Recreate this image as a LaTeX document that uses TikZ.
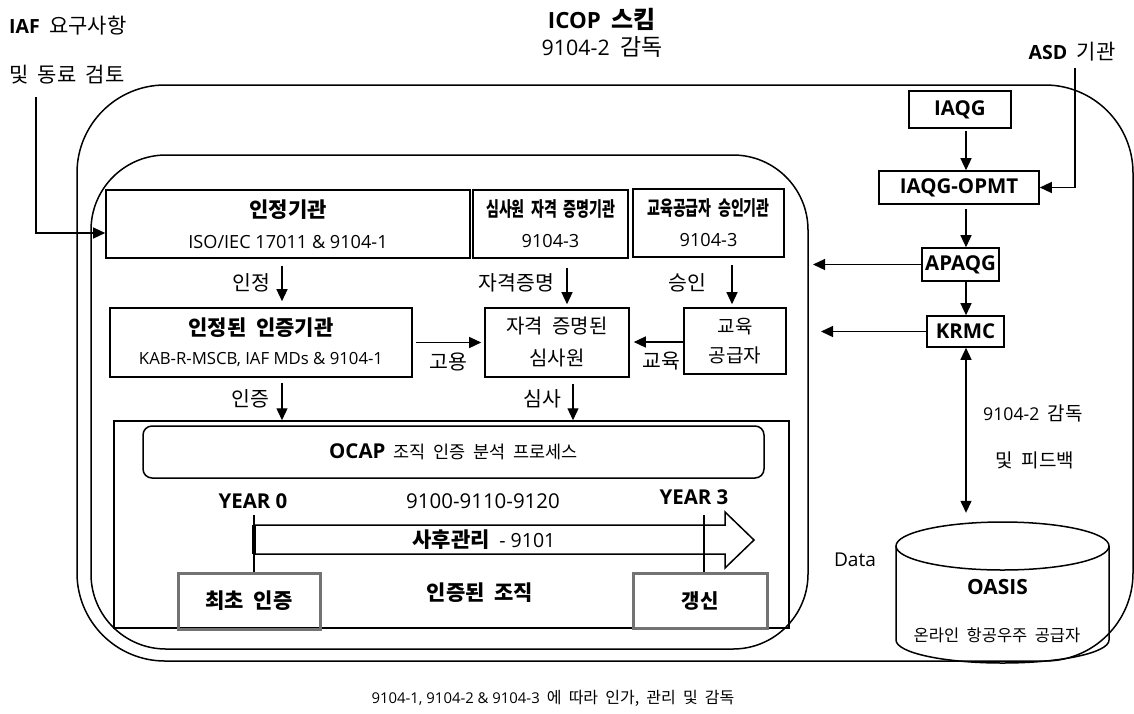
\documentclass[tikz,border=0pt]{standalone}
\usepackage{graphicx}
\usepackage{fontspec}
\setmainfont{Noto Sans CJK KR}[WordSpace=2]
\newfontfamily\latfont{Open Sans}[Scale=0.93]
\newcommand{\la}[1]{{\latfont #1}}
\newcommand{\fsz}[2]{\fontsize{#1}{#2}\selectfont}
\usetikzlibrary{arrows.meta}
\usetikzlibrary{positioning}
\usetikzlibrary{calc}

\begin{document}
\begin{tikzpicture}[x=1pt,y=-1pt,
    box/.style={draw, line width=1.6pt, inner sep=0pt, align=center},
    greybox/.style={box, draw=black!55, line width=3pt},
    arr/.style={line width=1.3pt, -{Triangle[length=12pt,width=11pt]}},
    arrboth/.style={line width=1.3pt, {Triangle[length=12pt,width=11pt]}-{Triangle[length=12pt,width=11pt]}},
    lbl/.style={inner sep=0pt, font=\fsz{20.5}{24}},
    txt/.style={inner sep=0pt, align=center}]
    \useasboundingbox (0,0) rectangle (1134,713);
    \clip (0,0) rectangle (1134,713);

    % the two rounded frames
    \draw[line width=1.5pt, rounded corners=88pt] (77,85) rectangle (1133,661);
    \draw[line width=1.5pt, rounded corners=75pt] (91,155) rectangle (808,649);

    % headings
    \node[txt, font=\fsz{24}{28}\bfseries] (title) at (602,19) {\la{ICOP} 스킴};
    \node[txt, font=\fsz{23}{28}] (titlesub) at (602,47) {\la{9104-2} 감독};
    \node[txt, font=\fsz{21}{25}, anchor=west] (iaf) at (9,26) {\textbf{\la{IAF}} 요구사항};
    \node[txt, font=\fsz{21}{25}, anchor=west] (peer) at (9,75) {및 동료 검토};
    \node[txt, font=\fsz{21}{25}] (asd) at (1072,52) {\textbf{\la{ASD}} 기관};

    % bodies
    \node[box, minimum width=364pt, minimum height=68pt, font=\fsz{19.5}{31}] (accr) at (288,224)
        {{\fsz{21}{31}\bfseries 인정기관}\\\la{ISO/IEC 17011 \& 9104-1}};
    \node[box, minimum width=155pt, minimum height=68pt, font=\fsz{19.5}{31}] (certb) at (550.5,224)
        {{\fsz{20}{31}\bfseries\scalebox{0.7}[1]{심사원 자격 증명기관}}\\\la{9104-3}};
    \node[box, minimum width=151pt, minimum height=68pt, font=\fsz{19.5}{31}] (trainb) at (708.5,223)
        {{\fsz{20}{31}\bfseries\scalebox{0.7}[1]{교육공급자 승인기관}}\\\la{9104-3}};
    \node[box, minimum width=302pt, minimum height=69pt, font=\fsz{18}{29}] (cb) at (261,342.5)
        {{\fsz{21}{29}\bfseries 인정된 인증기관}\\\la{KAB-R-MSCB, IAF MDs \& 9104-1}};
    \node[box, minimum width=144pt, minimum height=69pt, font=\fsz{20}{32}] (aud) at (557,342.5)
        {자격 증명된\\심사원};
    \node[box, minimum width=102pt, minimum height=66pt, font=\fsz{19}{29}] (tp) at (735,341)
        {교육\\공급자};

    % right column
    \node[box, minimum width=102pt, minimum height=37pt, font=\fsz{22}{26}\bfseries] (iaqg) at (960,109.5) {\la{IAQG}};
    \node[box, minimum width=160pt, minimum height=33pt, font=\fsz{22}{26}\bfseries] (opmt) at (959,187.5) {\la{IAQG-OPMT}};
    \node[box, minimum width=77pt, minimum height=33pt, font=\fsz{22}{26}\bfseries] (apaqg) at (960.5,264.5) {\la{APAQG}};
    \node[box, minimum width=77pt, minimum height=31pt, font=\fsz{22}{26}\bfseries] (krmc) at (965.5,331.5) {\la{KRMC}};

    % OASIS cylinder
    \node[inner sep=0pt, minimum width=213pt, minimum height=141pt] (oasis) at (1002.5,592.5) {};
    \draw[line width=1.5pt] (1002.5,546) ellipse [x radius=106.5, y radius=24];
    \draw[line width=1.5pt] (896,546) -- (896,640) arc[start angle=180, end angle=0, x radius=106.5, y radius=23] -- (1109,546);
    \node[txt, font=\fsz{22.5}{26}\bfseries] (oasisname) at (997.5,587) {\la{OASIS}};
    \node[txt, font=\fsz{16.5}{20}] (oasisdesc) at (997,635) {온라인 항공우주 공급자};
    \node[txt, font=\fsz{20.5}{24}] (data) at (855,560) {\la{Data}};
    \node[txt, font=\fsz{19}{23}] (fbone) at (1033,413) {\la{9104-2} 감독};
    \node[txt, font=\fsz{19}{23}] (fbtwo) at (1035,460) {및 피드백};

    % certified organisation
    \node[box, line width=1.5pt, minimum width=675pt, minimum height=207pt] (orgframe) at (451.5,524.5) {};
    \node[box, line width=1.5pt, rounded corners=9pt, minimum width=621pt, minimum height=52pt, font=\fsz{17.5}{22}] (ocap) at (453.5,452)
        {{\fsz{22}{26}\bfseries\la{OCAP}} 조직 인증 분석 프로세스};
    \node[txt, font=\fsz{22}{26}\bfseries] (yrzero) at (253,501) {\la{YEAR 0}};
    \node[txt, font=\fsz{22}{26}] (stds) at (483,501) {\la{9100-9110-9120}};
    \node[txt, font=\fsz{22}{26}\bfseries] (yrthree) at (694,497) {\la{YEAR 3}};
    \draw[line width=1.5pt] (254,525) -- (725,525) -- (725,512) -- (754,540) -- (725,568) -- (725,554) -- (254,554) -- cycle;
    \node[txt, font=\fsz{21}{25}] (surv) at (484,540) {\textbf{사후관리} \la{- 9101}};
    \node[txt, font=\fsz{21}{25}\bfseries] (orgcert) at (480,593) {인증된 조직};
    \node[greybox, minimum width=142pt, minimum height=56pt, font=\fsz{21}{25}\bfseries] (init) at (249,601) {최초 인증};
    \node[greybox, minimum width=134pt, minimum height=55pt, font=\fsz{20}{25}\bfseries] (renew) at (700,600.5) {갱신};
    \coordinate (yzero) at (254,515);
    \coordinate (ythree) at (704,515);
    \draw[line width=1.5pt] (yzero) -- (yzero |- init.north);
    \draw[line width=1.5pt] (ythree) -- (ythree |- renew.north);
    \draw[line width=3.5pt] (254,525) -- (254,554);

    % columns and free ends
    \coordinate (colA) at (282,0);
    \coordinate (colB) at (567,0);
    \coordinate (colE) at (573,0);
    \coordinate (colC) at (732,0);
    \coordinate (colD) at (966,0);
    \coordinate (apin) at (813,264.5);
    \coordinate (krin) at (821,331.5);
    \coordinate (asdtop) at (1075,68);
    \coordinate (iaftop) at (36,97);

    % connectors
    \draw[arr, shorten <=7pt, shorten >=6pt] (accr.south -| colA) -- node[lbl, left=11pt] (lacc) {인정} (cb.north -| colA);
    \draw[arr, shorten <=5pt] (cb.south -| colA) -- node[lbl, left=12pt] (lcert) {인증} (orgframe.north -| colA);
    \draw[arr, shorten <=9pt, shorten >=3pt] (certb.south -| colB) -- node[lbl, left=12pt] (lqual) {자격증명} (aud.north -| colB);
    \draw[arr, shorten <=7pt, shorten >=3pt] (trainb.south -| colC) -- node[lbl, left=25pt] (lappr) {승인} (tp.north -| colC);
    \draw[arr, shorten <=6pt] (aud.south -| colE) -- node[lbl, left=11pt] (laudit) {심사} (orgframe.north -| colE);
    \draw[arr, shorten <=3pt, shorten >=3pt] (cb.east) -- node[lbl, below=10pt] (lhire) {고용} (aud.west);
    \draw[arr, shorten >=4pt] (tp.west |- 0,342) -- node[lbl, pos=0.4, below=9pt] (ltrain) {교육} (aud.east |- 0,342);
    \draw[arr, shorten <=2pt] (iaqg.south -| colD) -- (opmt.north -| colD);
    \draw[arr, shorten <=4pt] (opmt.south -| colD) -- (apaqg.north -| colD);
    \draw[arr] (apaqg.south -| colD) -- (krmc.north -| colD);
    \draw[arrboth, shorten >=9pt] (krmc.south -| colD) -- (oasis.north -| colD);
    \draw[arr] (apaqg.west) -- (apin);
    \draw[arr] (krmc.west) -- (krin);
    \draw[arr] (asdtop) |- (opmt.east);
    \draw[arr] (iaftop) |- ([yshift=-9pt]accr.west);

    % caption
    \node[txt, font=\fsz{16}{20}] (caption) at (553,698) {\la{9104-1, 9104-2 \& 9104-3} 에 따라 인가, 관리 및 감독};
\end{tikzpicture}
\end{document}
